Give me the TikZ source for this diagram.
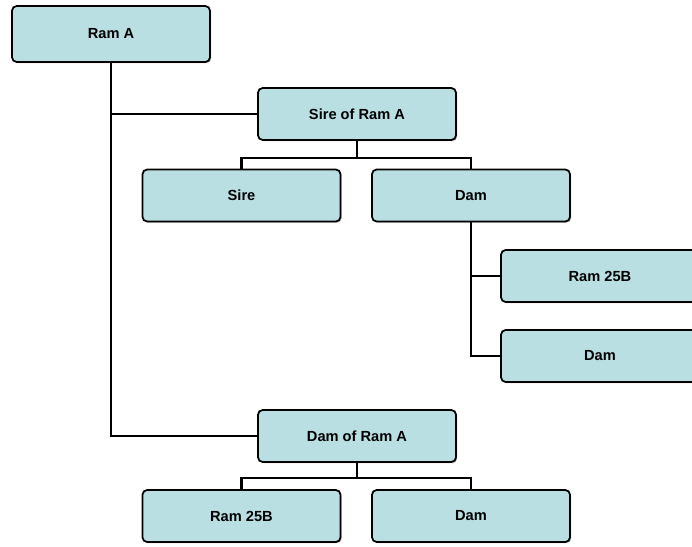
\documentclass[tikz,border=0pt]{standalone}
\usepackage{fontspec}
\setmainfont{Liberation Sans}
\usetikzlibrary{shadows,calc}
\definecolor{boxfill}{RGB}{186,223,227}

\begin{document}
\begin{tikzpicture}[x=0.03cm,y=-0.03cm,
  box/.style={draw=black,line width=1.5pt,fill=boxfill,rounded corners=4pt,
    minimum width=5.94cm,minimum height=1.56cm,
    drop shadow={shadow xshift=1pt,shadow yshift=-1pt,fill=black!65},
    font=\fontsize{12.5}{14}\selectfont\bfseries},
  link/.style={line width=2pt,black}]
\useasboundingbox (0,0) rectangle (692,546);
% connectors first, boxes on top
\coordinate (j1) at (357,158);
\coordinate (j2) at (357,478);
% the ram and its parents
\node[box,minimum height=1.68cm] (ramA) at (111,34) {Ram A};
\node[box] (sireRamA) at (357,114) {Sire of Ram A};
\node[box] (damRamA) at (357,436) {Dam of Ram A};
% sire side
\node[box] (sire) at (241.5,195.5) {Sire};
\node[box] (dam1) at (471,195.5) {Dam};
\node[box] (ram25a) at (600,276) {Ram 25B};
\node[box] (dam2) at (600,356) {Dam};
% dam side
\node[box] (ram25b) at (241.5,516) {Ram 25B};
\node[box] (dam3) at (471,516) {Dam};
% connectors
\draw[link] (ramA.south) |- (damRamA.west);
\draw[link] (ramA.south |- sireRamA.west) -- (sireRamA.west);
\draw[link] (sireRamA.south) -- (j1);
\draw[link] (sire.north) |- (j1) -| (dam1.north);
\draw[link] (dam1.south) |- (dam2.west);
\draw[link] (dam1.south |- ram25a.west) -- (ram25a.west);
\draw[link] (damRamA.south) -- (j2);
\draw[link] (ram25b.north) |- (j2) -| (dam3.north);
\end{tikzpicture}
\end{document}
